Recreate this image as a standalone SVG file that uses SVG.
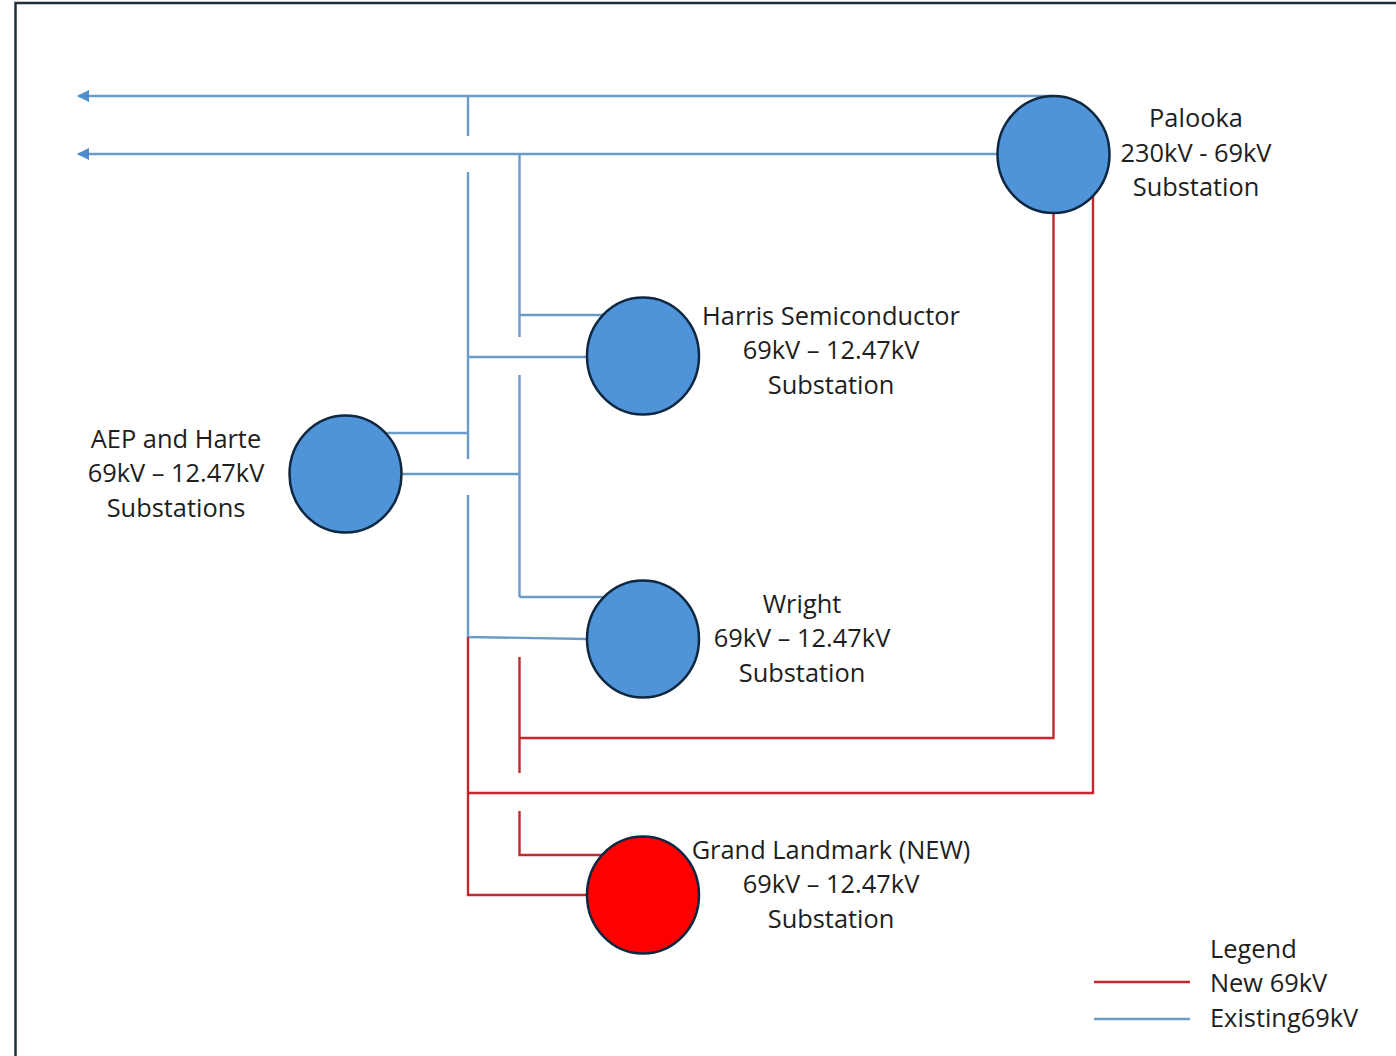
<svg xmlns="http://www.w3.org/2000/svg" width="1396" height="1056" viewBox="0 0 1396 1056">
<style>
text{font-family:"Open Sans","Liberation Sans",sans-serif;font-size:25.400px;fill:#1e1e1e;text-anchor:middle}
.l{text-anchor:start}
.c{fill:none;stroke-width:2.400}
.b{stroke:#6a9cc9}
.r{stroke:#c4282c}
.n{stroke:#0e2841;stroke-width:2.500}
</style>
<defs><marker id="a" markerUnits="userSpaceOnUse" markerWidth="13" markerHeight="12" refX="11" refY="6" orient="auto"><path d="M0 0L12 6L0 12Z" fill="#4f8ccb"/></marker></defs>
<rect width="1396" height="1056" fill="#fff"/>
<path d="M15.500 1056V3H1396" fill="none" stroke="#1f2f3a" stroke-width="2.500"/>
<g id="connectors">
<path class="c b" d="M1053 96H78" marker-end="url(#a)"/>
<path class="c b" d="M998 154H78" marker-end="url(#a)"/>
<path class="c b" d="M468 96V136M468 172V459M468 495V637M519.500 154V337M519.500 375V597M519.500 315H603M468 357H587M386 433H468M402 474H519.500M519.500 597H603M468 637L587 639"/>
<path class="c r" d="M1053.500 212V738H519.500M1093 196V793H468M519.500 657V773M519.500 811V855H603M468 637V895H587"/>
</g>
<g id="palooka"><ellipse class="n" cx="1053.500" cy="154.500" rx="56" ry="58.500" fill="#4f94d8"/><text x="1196" y="127">Palooka</text><text x="1196" y="162">230kV - 69kV</text><text x="1196" y="196">Substation</text></g>
<g id="harris"><ellipse class="n" cx="643" cy="356" rx="56" ry="58.500" fill="#4f94d8"/><text x="831" y="325">Harris Semiconductor</text><text x="831" y="359">69kV – 12.47kV</text><text x="831" y="394">Substation</text></g>
<g id="aep"><ellipse class="n" cx="345.500" cy="474" rx="56" ry="58.500" fill="#4f94d8"/><text x="176" y="448">AEP and Harte</text><text x="176" y="482">69kV – 12.47kV</text><text x="176" y="517">Substations</text></g>
<g id="wright"><ellipse class="n" cx="643" cy="639" rx="56" ry="58.500" fill="#4f94d8"/><text x="802" y="613">Wright</text><text x="802" y="647">69kV – 12.47kV</text><text x="802" y="682">Substation</text></g>
<g id="grand"><ellipse class="n" cx="643" cy="895" rx="56" ry="58.500" fill="#fe0000"/><text x="831" y="859">Grand Landmark (NEW)</text><text x="831" y="893">69kV – 12.47kV</text><text x="831" y="928">Substation</text></g>
<g id="legend"><path class="c r" d="M1094 982H1190"/><path class="c b" d="M1094 1019H1190"/><text class="l" x="1210" y="958">Legend</text><text class="l" x="1210" y="992">New 69kV</text><text class="l" x="1210" y="1027">Existing69kV</text></g>
</svg>
